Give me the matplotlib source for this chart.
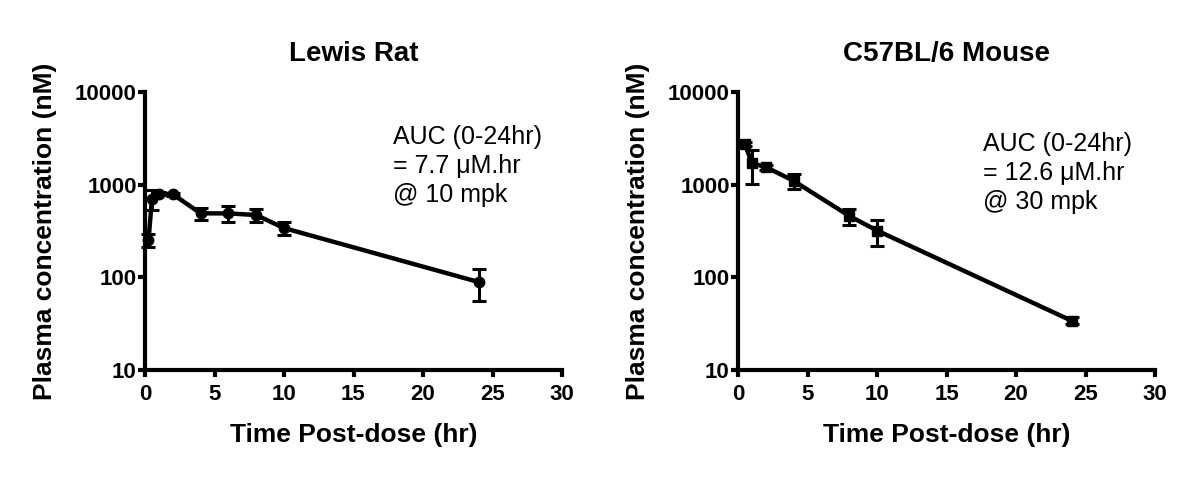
import matplotlib
matplotlib.use("Agg")
import matplotlib.pyplot as plt
from matplotlib.ticker import FixedLocator, NullLocator, FixedFormatter

plt.rcParams['font.family'] = ['Liberation Sans', 'DejaVu Sans']

# Lewis rat, 10 mpk
rat_time = [0.25, 0.5, 1, 2, 4, 6, 8, 10, 24]
rat_conc = [250, 700, 800, 790, 490, 490, 470, 340, 89]
rat_err = [40, 170, 30, 30, 70, 95, 70, 55, 34]

# C57BL/6 mouse, 30 mpk
mouse_time = [0.5, 1, 2, 4, 8, 10, 24]
mouse_conc = [2750, 1700, 1550, 1100, 460, 320, 34]
mouse_err = [150, 680, 100, 200, 90, 100, 3]

titles = ["Lewis Rat", "C57BL/6 Mouse"]
auc_text = ["AUC (0-24hr)\n= 7.7 \u03bcM.hr\n@ 10 mpk",
            "AUC (0-24hr)\n= 12.6 \u03bcM.hr\n@ 30 mpk"]
y_ticks = [10, 100, 1000, 10000]
y_labels = ["10", "100", "1000", "10000"]
x_ticks = [0, 5, 10, 15, 20, 25, 30]

fig = plt.figure(figsize=(12, 4.78), dpi=100)
W, H = 1200, 478
ax1 = fig.add_axes([145 / W, 1 - 370 / H, 417 / W, 278 / H])
ax2 = fig.add_axes([738 / W, 1 - 370 / H, 417 / W, 278 / H])

# axis, data, marker, text position
panels = [
    (ax1, rat_time, rat_conc, rat_err, 'o', 7.5, (0.595, 0.88)),
    (ax2, mouse_time, mouse_conc, mouse_err, 's', 7.5, (0.587, 0.855)),
]

for i, (ax, t, c, e, mk, ms, txy) in enumerate(panels):
    ax.errorbar(t, c, yerr=e, color='black', lw=3.2, marker=mk, ms=ms,
                elinewidth=2.2, capsize=5, capthick=2.2, clip_on=False, zorder=3)
    ax.set_yscale('log')
    ax.set_ylim(10, 10000)
    ax.set_xlim(0, 30)
    ax.yaxis.set_major_locator(FixedLocator(y_ticks))
    ax.yaxis.set_major_formatter(FixedFormatter(y_labels))
    ax.yaxis.set_minor_locator(NullLocator())
    ax.set_xticks(x_ticks)
    for s in ['top', 'right']:
        ax.spines[s].set_visible(False)
    for s in ['left', 'bottom']:
        ax.spines[s].set_linewidth(3)
    ax.tick_params(axis='both', width=3, length=5, labelsize=16)
    ax.tick_params(axis='y', pad=1)
    ax.tick_params(axis='x', pad=5)
    for lab in ax.get_xticklabels() + ax.get_yticklabels():
        lab.set_fontweight('bold')
    ax.set_xlabel("Time Post-dose (hr)", fontsize=19, fontweight='bold', va='top')
    ax.xaxis.set_label_coords(0.5, -0.19)
    ax.set_ylabel("Plasma concentration (nM)", fontsize=19, fontweight='bold')
    ax.yaxis.set_label_coords(-0.21, 0.5)
    ax.set_title(titles[i], fontsize=20, fontweight='bold', pad=22)
    ax.text(txy[0], txy[1], auc_text[i], transform=ax.transAxes,
            fontsize=18, va='top', ha='left', linespacing=1.25)

fig.savefig("out.png", dpi=100)
